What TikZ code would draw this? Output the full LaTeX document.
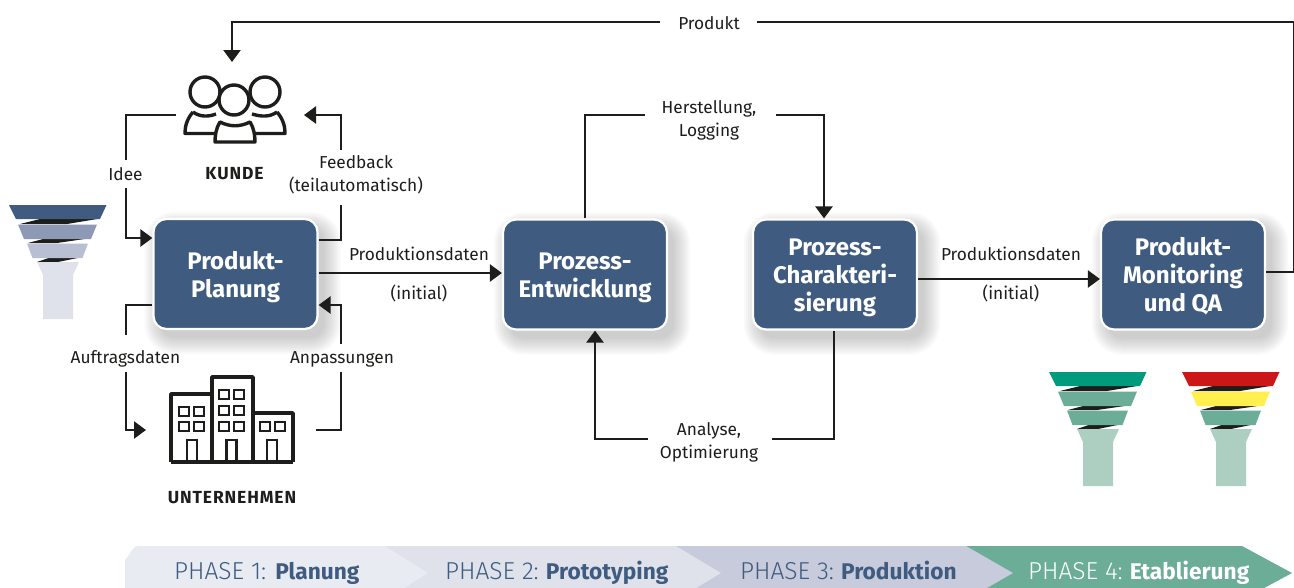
\documentclass[tikz,border=0pt]{standalone}
\usepackage{fontspec}
\setmainfont{Fira Sans}
\newfontfamily\lightf{Fira Sans Light}
\usetikzlibrary{arrows.meta,calc}
\definecolor{boxblue}{HTML}{3F5B7F}
\definecolor{ink}{HTML}{1D1D1B}
\definecolor{phaseA}{HTML}{E9EBF2}
\definecolor{phaseB}{HTML}{DFE2EB}
\definecolor{phaseC}{HTML}{C7CBDC}
\definecolor{phaseD}{HTML}{6BAD96}
\definecolor{fband}{HTML}{8E9AB5}
\definecolor{fbandb}{HTML}{B9BFD3}
\definecolor{gtop}{HTML}{009A7C}
\definecolor{gstem}{HTML}{ADCFC1}
\definecolor{redtop}{HTML}{CC1719}
\definecolor{yel}{HTML}{FFEF4F}
\tikzset{
  x=1pt,y=-1pt,
  procbox/.style={fill=boxblue,draw=white,line width=2.2pt,rounded corners=13pt,minimum width=164pt,minimum height=110pt,text=white,align=center,inner sep=0pt,font=\fontsize{24}{28}\selectfont\bfseries},
  lbl/.style={font=\fontsize{17.3}{23}\selectfont,text=ink,align=center,inner sep=0pt},
  capt/.style={font=\fontsize{17.5}{20}\selectfont\bfseries\addfontfeatures{LetterSpace=5},text=ink,inner sep=0pt},
  ln/.style={draw=ink,line width=2.5pt},
  arr/.style={ln,-{Triangle[length=12pt,width=17pt]}},
  icon/.style={draw=ink,line width=3.4pt,line join=round},
  win/.style={draw=ink,line width=2.8pt},
  phasetxt/.style={font=\fontsize{24.5}{26}\lightf,inner sep=0pt,anchor=base west},
  pics/funnel/.style n args={4}{code={
    \fill[ink] (20,224) -- (40,219) -- (97,219) -- (67,224) -- cycle;
    \fill[ink] (28,243) -- (45,238.5) -- (88,238.5) -- (57,243) -- cycle;
    \fill[ink] (37,262) -- (50,257.5) -- (80,257.5) -- (58,262) -- cycle;
    \fill[#1] (9,205) -- (106.5,205) -- (100,219) -- (16,219) -- cycle;
    \fill[#2] (18,224.5) -- (97,224.5) -- (91,239) -- (24,239) -- cycle;
    \fill[#3] (27,243.5) -- (88,243.5) -- (82.5,258) -- (32.5,258) -- cycle;
    \fill[#4] (37,262) -- (79,262) -- (73,275) -- (73,319) -- (43,319) -- (43,275) -- cycle;
  }}
}
\newcommand{\bp}[1]{\hspace{-2pt}{\fontsize{22.7}{26}\fontspec{Fira Sans}\bfseries #1}}
\newcommand{\boxtext}[1]{\raisebox{0pt}[\dimexpr\height+7pt\relax][\depth]{\begin{tabular}{@{}c@{}}#1\end{tabular}}}
\begin{document}
\begin{tikzpicture}
\useasboundingbox (0,0) rectangle (1294,587);
% phase bar
\begin{scope}
\clip (0,0) rectangle (1294,587);
\fill[phaseD] (940,546) -- (1242,546) -- (1292,573) -- (1242,600) -- (940,600) -- cycle;
\fill[phaseC] (650,546) -- (966,546) -- (1013,573) -- (966,600) -- (650,600) -- cycle;
\fill[phaseB] (360,546) -- (676,546) -- (721,573) -- (676,600) -- (360,600) -- cycle;
\fill[phaseA] (125,600) -- (125,558) to[out=-90,in=180] (138,546) -- (385,546) -- (428,573) -- (385,600) -- cycle;
\end{scope}
\node[phasetxt,text=boxblue] (ph1) at (174,579) {PHASE 1: \hspace{2pt}\bp{Planung}};
\node[phasetxt,text=boxblue] (ph2) at (445,579) {PHASE 2: \bp{Prototyping}};
\node[phasetxt,text=boxblue] (ph3) at (740,579) {PHASE 3: \bp{Produktion}};
\node[phasetxt,text=white] (ph4) at (1028,579) {PHASE 4: \bp{Etablierung}};
% funnels
\pic at (0,0) {funnel={boxblue}{fband}{fbandb}{phaseB}};
\pic at (1040,167) {funnel={gtop}{phaseD}{phaseD}{gstem}};
\pic at (1173,167) {funnel={redtop}{yel}{phaseD}{gstem}};
% shadows
\foreach \cx/\cy in {235.5/274,585/274.5,835/274.5,1183/274.5}{
  \foreach \g in {16,14,...,0}{
    \fill[black,opacity=0.022,rounded corners=14pt+\g*1pt] (\cx-82-\g+7,\cy-55-\g+9) rectangle (\cx+82+\g+7,\cy+55+\g+9);
  }
}
% boxes
\node[procbox] (pp) at (235.5,274) {\boxtext{Produkt-\\Planung}};
\node[procbox] (pe) at (585,274.5) {\boxtext{Prozess-\\Entwicklung}};
\node[procbox] (pc) at (835,274.5) {\boxtext{Prozess-\\Charakteri-\\sierung}};
\node[procbox] (pm) at (1183,274.5) {\boxtext{Produkt-\\Monitoring\\und QA}};
% kunde icon
\node[minimum width=100pt,minimum height=90pt,inner sep=0pt] (ku) at (234,105) {};
\draw[icon,fill=white] (205,92) circle (15);
\draw[icon,fill=white] (265,92) circle (15);
\draw[icon] (193,112) .. controls (186,120) and (185,128) .. (185,133.5) -- (216,133.5);
\draw[icon] (193,112) .. controls (200,117) and (208,117) .. (216,114);
\draw[icon] (277,112) .. controls (284,120) and (285,128) .. (285,133.5) -- (254,133.5);
\draw[icon] (277,112) .. controls (270,117) and (262,117) .. (252,114);
\draw[icon,fill=white] (220,122) .. controls (216,128) and (215,136) .. (215,142) -- (255,142) .. controls (255,136) and (254,128) .. (250,122) .. controls (240,127) and (230,127) .. (220,122) -- cycle;
\draw[icon,fill=white] (234,100) circle (15);
\node[capt] (kut) at (234.5,174) {KUNDE};
% unternehmen icon
\node[minimum width=122pt,minimum height=85pt,inner sep=0pt] (un) at (232,420) {};
\draw[icon,line width=3.8pt] (171,462) -- (171,394) -- (212,394);
\draw[icon,line width=3.8pt] (212,462) -- (212,377) -- (253,377) -- (253,462);
\draw[icon,line width=3.8pt] (253,413) -- (293,413) -- (293,462);
\draw[icon,line width=3.8pt] (171,462) -- (293,462);
\foreach \a/\b in {179/407,194/407,179/422,194/422,219/390,234/390,219/406,234/406,219/422,234/422,260/422,275/422}{
  \draw[win] (\a,\b) rectangle ++(10,9);
}
\foreach \a in {187,226.5,267}{
  \draw[win] (\a,462) -- (\a,440) -- (\a+10,440) -- (\a+10,462);
}
\node[capt] (unt) at (232,498) {UNTERNEHMEN};
% labels
\node[lbl] (lprod) at (709,23) {Produkt};
\node[lbl] (lidee) at (125.5,174) {Idee};
\node[lbl] (lfeed) at (356,175) {Feedback\\(teilautomatisch)};
\node[lbl] (lauft) at (125.5,359) {Auftragsdaten};
\node[lbl] (lanp) at (342,359) {Anpassungen};
\node[lbl] (lpd1) at (419,254) {Produktionsdaten};
\node[lbl] (lin1) at (419,293) {(initial)};
\node[lbl] (lpd2) at (1011,254) {Produktionsdaten};
\node[lbl] (lin2) at (1011,293) {(initial)};
\node[lbl] (lher) at (709,120) {Herstellung,\\Logging};
\node[lbl] (lana) at (709,442.5) {Analyse,\\Optimierung};
% free-end coordinates
\coordinate (kuW) at (176,115);
\coordinate (kuE) at (304,115);
\coordinate (kuN) at (232,62);
\coordinate (unW) at (146,430);
\coordinate (unE) at (316,430);
% connectors
\draw[ln] (pm.east |- 0,272) -- (1294,272) -- (1294,22) -- (757,22);
\draw[arr] (660,22) -- (232,22) -- (kuN);
\draw[ln] (kuW) -- (126,115) -- (126,160);
\draw[arr] (126,188) -- (126,238) -- (pp.west |- 0,238);
\draw[ln] (pp.east |- 0,240) -- (341,240) -- (341,205);
\draw[arr] (341,150) -- (341,115) -- (kuE);
\draw[ln] (pp.west |- 0,305) -- (126,305) -- (126,335);
\draw[arr] (126,372) -- (126,430) -- (unW);
\draw[ln] (unE) -- (341,430) -- (341,372);
\draw[arr] (341,344) -- (341,305) -- (pp.east |- 0,305);
\draw[arr] (pp.east |- 0,273) -- (pe.west |- 0,273);
\draw[arr] (pc.east |- 0,279) -- (pm.west |- 0,279);
\draw[ln] (pe.north) -- (585,115) -- (645,115);
\draw[arr] (776,115) -- (824,115) -- (pc.north -| 824,0);
\draw[ln] (pc.south -| 834,0) -- (834,439) -- (772,439);
\draw[arr] (648,439) -- (595,439) -- (pe.south -| 595,0);
\end{tikzpicture}
\end{document}
